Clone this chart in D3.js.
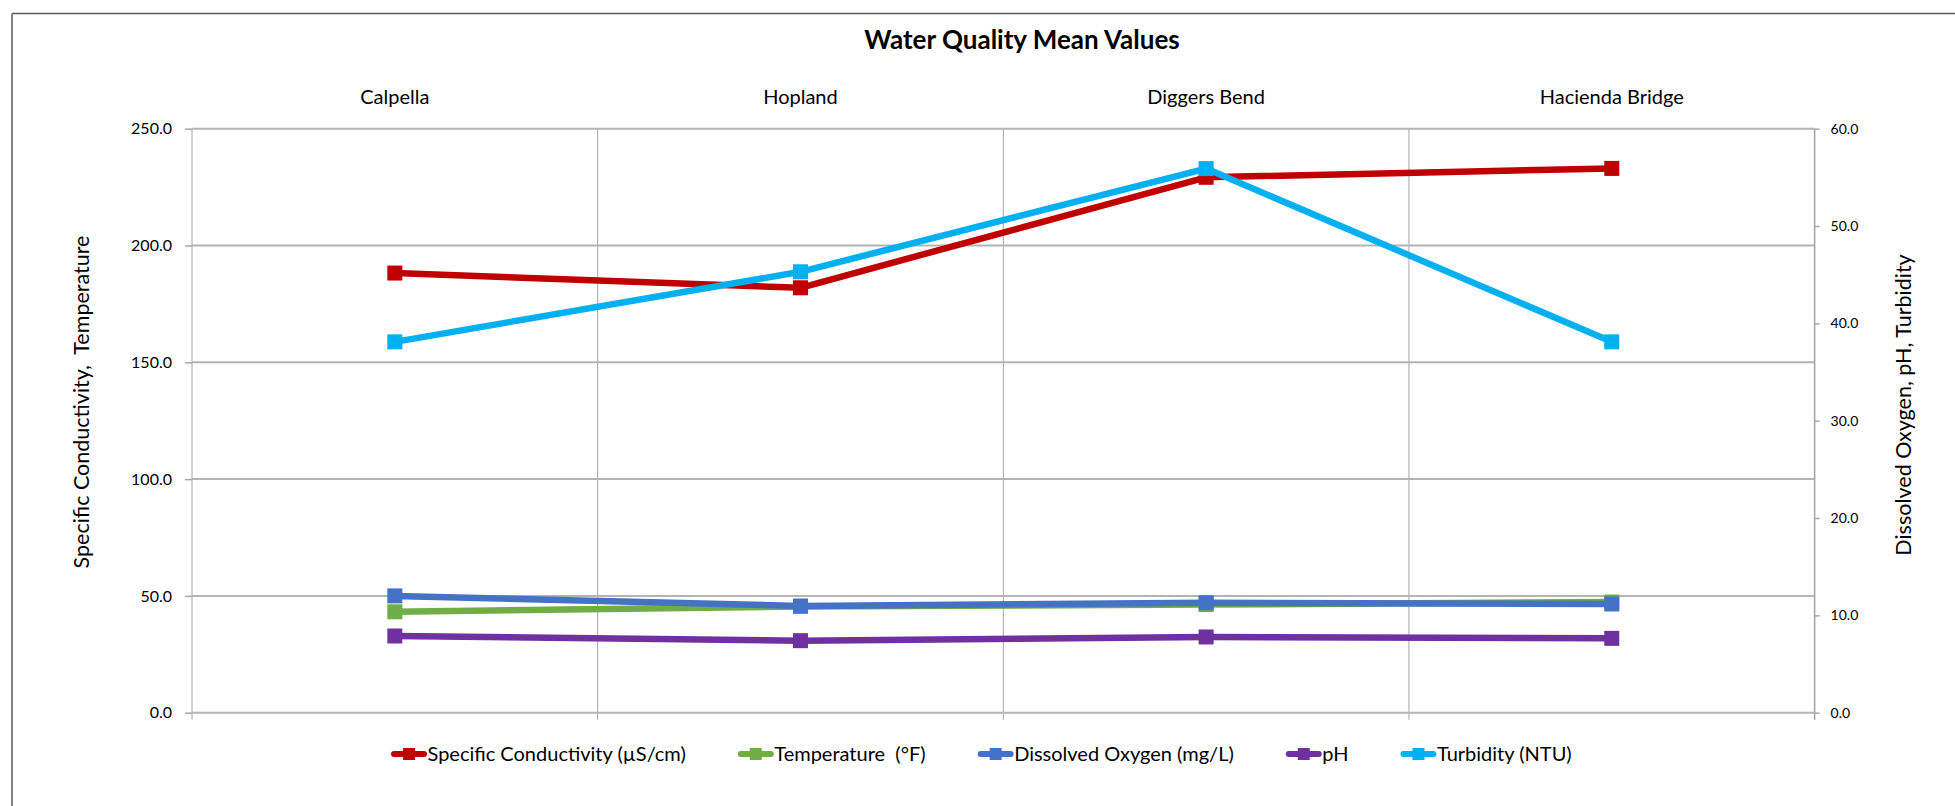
<!DOCTYPE html>
<html>
<head>
<meta charset="utf-8">
<script src="https://cdn.jsdelivr.net/npm/d3@7"></script>
<style>
  html, body { margin: 0; padding: 0; background: #ffffff; }
  svg { display: block; font-family: Lato, "Noto Sans", sans-serif; }
  text { white-space: pre; }
</style>
</head>
<body>
<svg id="chart" width="1955" height="806"></svg>
<script>
// ---- data ----
const categories = ["Calpella", "Hopland", "Diggers Bend", "Hacienda Bridge"];
const specificConductivity = [188.2, 181.9, 229.2, 233.0];
const temperature = [43.2, 45.5, 46.3, 47.4];
const dissolvedOxygen = [12.0, 10.96, 11.3, 11.17];
const pH = [7.88, 7.4, 7.78, 7.64];
const turbidity = [38.1, 45.3, 55.9, 38.1];
const leftTicks = [0, 50, 100, 150, 200, 250];
const rightTicks = [0, 10, 20, 30, 40, 50, 60];
const seriesNames = ["Specific Conductivity (\u00b5S/cm)", "Temperature  (\u00b0F)", "Dissolved Oxygen (mg/L)", "pH", "Turbidity (NTU)"];
const seriesColors = ["#C00000", "#70AD47", "#4472C4", "#7030A0", "#00B0F0"];
const seriesAxis = ["left", "left", "right", "right", "right"];
const seriesValues = [specificConductivity, temperature, dissolvedOxygen, pH, turbidity];
const chartTitle = "Water Quality Mean Values";
const leftTitle = "Specific Conductivity,  Temperature";
const rightTitle = "Dissolved Oxygen, pH, Turbidity";

// ---- layout ----
const svg = d3.select("#chart");
const plot = { left: 192, right: 1814.6, top: 128.7, bottom: 712.7 };

const x = d3.scaleBand().domain(categories).range([plot.left, plot.right]).padding(0);
const cx = c => x(c) + x.bandwidth() / 2;
const yL = d3.scaleLinear().domain([0, 250]).range([plot.bottom, plot.top]);
const yR = d3.scaleLinear().domain([0, 60]).range([plot.bottom, plot.top]);

// outer border (top + left visible)
svg.append("line").attr("x1", 12).attr("x2", 1955).attr("y1", 13.5).attr("y2", 13.5)
  .attr("stroke", "#595959").attr("stroke-width", 1.5);
svg.append("line").attr("x1", 12).attr("x2", 12).attr("y1", 13.5).attr("y2", 806)
  .attr("stroke", "#595959").attr("stroke-width", 1.5);

// title
svg.append("text").attr("x", 1022).attr("y", 49)
  .attr("text-anchor", "middle").attr("font-weight", "bold").attr("font-size", 26)
  .attr("fill", "#000").text(chartTitle);

// vertical gridlines at category boundaries (extend down as ticks)
const bounds = categories.map(c => x(c)).concat([plot.right]);
svg.append("g").selectAll("line").data(bounds).join("line")
  .attr("x1", d => d).attr("x2", d => d)
  .attr("y1", plot.top).attr("y2", plot.bottom + 7)
  .attr("stroke", "#a6a6a6").attr("stroke-width", 1);

// horizontal gridlines
svg.append("g").selectAll("line").data(leftTicks).join("line")
  .attr("x1", plot.left).attr("x2", plot.right)
  .attr("y1", d => yL(d)).attr("y2", d => yL(d))
  .attr("stroke", "#b4b4b4").attr("stroke-width", 2);

// left axis
const gL = svg.append("g").attr("transform", `translate(${plot.left},0)`)
  .call(d3.axisLeft(yL).tickValues(leftTicks).tickSize(7).tickPadding(13).tickFormat(d3.format(".1f")));
gL.select(".domain").remove();
gL.selectAll(".tick line").attr("stroke", "#a6a6a6").attr("stroke-width", 1.5);
gL.selectAll(".tick text").attr("font-size", 16).attr("fill", "#000").attr("font-family", "Lato");

// right axis
const gR = svg.append("g").attr("transform", `translate(${plot.right},0)`)
  .call(d3.axisRight(yR).tickValues(rightTicks).tickSize(5).tickPadding(11).tickFormat(d3.format(".1f")));
gR.select(".domain").remove();
gR.selectAll(".tick line").attr("stroke", "#a6a6a6").attr("stroke-width", 1.5);
gR.selectAll(".tick text").attr("font-size", 14).attr("fill", "#000").attr("font-family", "Lato");
svg.append("line").attr("x1", plot.right).attr("x2", plot.right)
  .attr("y1", plot.top).attr("y2", plot.bottom + 7)
  .attr("stroke", "#a6a6a6").attr("stroke-width", 1.5);

// category labels at top
svg.append("g").selectAll("text").data(categories).join("text")
  .attr("x", d => cx(d)).attr("y", 104)
  .attr("text-anchor", "middle").attr("font-size", 20).attr("fill", "#000")
  .text(d => d);

// axis titles
svg.append("text").attr("transform", `translate(89,402) rotate(-90)`)
  .attr("text-anchor", "middle").attr("font-size", 21.5).attr("fill", "#000")
  .text(leftTitle);
svg.append("text").attr("transform", `translate(1911,405) rotate(-90)`)
  .attr("text-anchor", "middle").attr("font-size", 21.5).attr("fill", "#000")
  .text(rightTitle);

// series
const markerSize = 15;
seriesValues.forEach((vals, i) => {
  const yS = seriesAxis[i] === "left" ? yL : yR;
  const pts = categories.map((c, j) => [cx(c), yS(vals[j])]);
  const g = svg.append("g");
  g.append("path").attr("d", d3.line()(pts))
    .attr("fill", "none").attr("stroke", seriesColors[i])
    .attr("stroke-width", 6.5).attr("stroke-linejoin", "round");
  g.selectAll("rect").data(pts).join("rect")
    .attr("x", d => d[0] - markerSize / 2).attr("y", d => d[1] - markerSize / 2)
    .attr("width", markerSize).attr("height", markerSize)
    .attr("fill", seriesColors[i]);
});

// legend
const legendY = 754;
let lx = 391;
seriesNames.forEach((name, i) => {
  const g = svg.append("g");
  g.append("line").attr("x1", lx + 3).attr("x2", lx + 33).attr("y1", legendY).attr("y2", legendY)
    .attr("stroke", seriesColors[i]).attr("stroke-width", 6).attr("stroke-linecap", "round");
  g.append("rect").attr("x", lx + 18 - 6).attr("y", legendY - 6).attr("width", 12).attr("height", 12)
    .attr("fill", seriesColors[i]);
  const t = g.append("text").attr("x", lx + 36.5).attr("y", legendY).attr("dy", "0.35em")
    .attr("font-size", 20).attr("fill", "#000").text(name);
  const w = t.node().getComputedTextLength();
  lx = lx + 36.5 + w + 52;
});
</script>
</body>
</html>
